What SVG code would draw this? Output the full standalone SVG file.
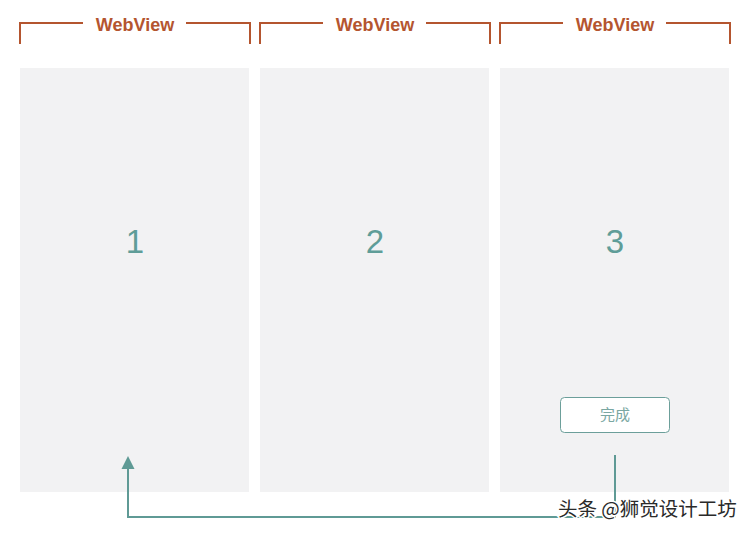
<svg xmlns="http://www.w3.org/2000/svg" width="750" height="533" viewBox="0 0 750 533">
<defs>
<style>
.br{fill:none;stroke:#b4552f;stroke-width:2}
.lbl{font-family:"Liberation Sans",Arial,sans-serif;font-size:18px;font-weight:bold;fill:#b4552f;text-anchor:middle}
.panel{fill:#f2f2f3}
.num{font-family:"Liberation Sans",Arial,sans-serif;font-size:33px;fill:#5f9d98;text-anchor:middle}
.conn{fill:none;stroke:#5f9a95;stroke-width:2}
</style>
</defs>
<rect width="750" height="533" fill="#ffffff"/>
<g id="webview1">
<path class="br" d="M20,44 V23 H83 M186,23 H250 V44"/>
<text class="lbl" x="135" y="31">WebView</text>
</g>
<g id="webview2">
<path class="br" d="M260,44 V23 H323 M426,23 H490 V44"/>
<text class="lbl" x="375" y="31">WebView</text>
</g>
<g id="webview3">
<path class="br" d="M500,44 V23 H563 M666,23 H730 V44"/>
<text class="lbl" x="615" y="31">WebView</text>
</g>
<g id="panel1">
<rect class="panel" x="20" y="68" width="229" height="424"/>
<text class="num" x="135" y="253">1</text>
</g>
<g id="panel2">
<rect class="panel" x="260" y="68" width="229" height="424"/>
<text class="num" x="375" y="253">2</text>
</g>
<g id="panel3">
<rect class="panel" x="500" y="68" width="229" height="424"/>
<text class="num" x="615" y="253">3</text>
</g>
<g id="done-button">
<rect x="560.5" y="397.5" width="109" height="35" rx="4" fill="#ffffff" stroke="#6c9f9a" stroke-width="1"/>
<text x="615" y="420" font-family="'Noto Sans CJK SC',sans-serif" font-size="15" fill="#7aa7a2" text-anchor="middle">完成</text>
</g>
<g id="connectors">
<path d="M615,455 V517 H128 V468" class="conn"/>
<path d="M128,456 L134.5,469 L121.5,469 z" fill="#5f9a95"/>
</g>
<text x="558" y="516" font-family="'Noto Sans CJK SC',sans-serif" font-size="19.5" fill="#2a2a2a" stroke="#ffffff" stroke-width="3" paint-order="stroke">头条 @狮觉设计工坊</text>
</svg>
